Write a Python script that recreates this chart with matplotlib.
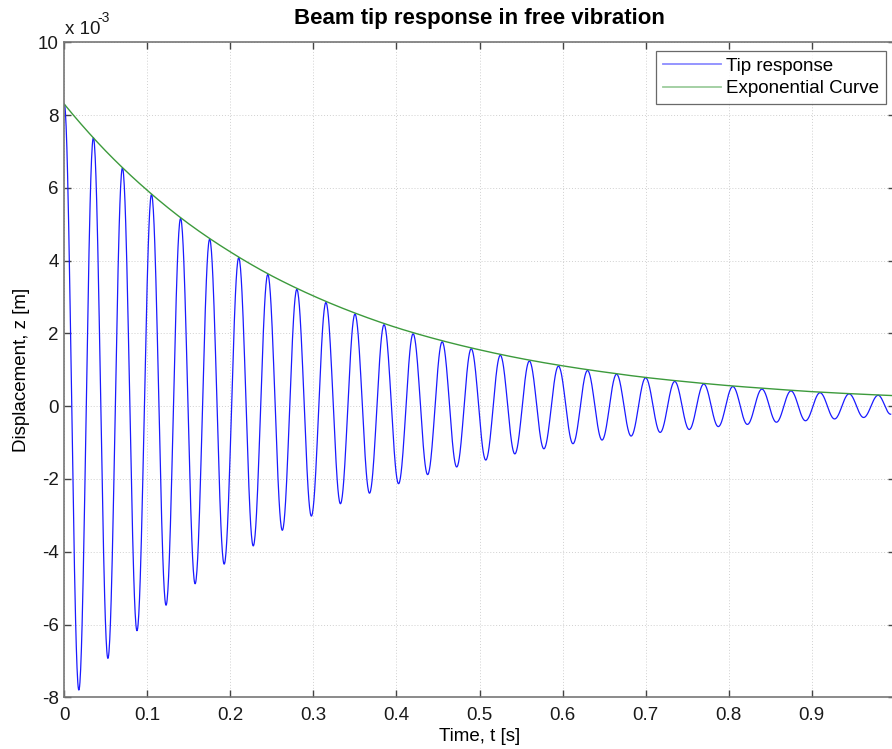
import numpy as np
import matplotlib
matplotlib.use("Agg")
import matplotlib.pyplot as plt

plt.rcParams['font.family'] = ['Liberation Sans', 'DejaVu Sans']
plt.rcParams['axes.unicode_minus'] = False

# ---- data (displacement in units of 1e-3 m) ----
peak_times = [0.000, 0.035, 0.070, 0.105, 0.140, 0.175, 0.210, 0.245, 0.280, 0.315,
              0.350, 0.385, 0.420, 0.455, 0.490, 0.525, 0.560, 0.595, 0.630, 0.665,
              0.700, 0.735, 0.770, 0.805, 0.840, 0.875, 0.910, 0.945, 0.980]
peak_values = [8.30, 7.38, 6.55, 5.82, 5.16, 4.59, 4.08, 3.62, 3.21, 2.85,
               2.53, 2.24, 1.99, 1.77, 1.58, 1.40, 1.24, 1.10, 0.98, 0.88,
               0.78, 0.68, 0.61, 0.54, 0.47, 0.42, 0.37, 0.34, 0.30]
trough_times = [0.0175, 0.0525, 0.0875, 0.1225, 0.1575, 0.1925, 0.2275, 0.2625, 0.2975, 0.3325,
                0.3675, 0.4025, 0.4375, 0.4725, 0.5075, 0.5425, 0.5775, 0.6125, 0.6475, 0.6825,
                0.7175, 0.7525, 0.7875, 0.8225, 0.8575, 0.8925, 0.9275, 0.9625]
trough_values = [-7.80, -6.93, -6.17, -5.47, -4.88, -4.34, -3.84, -3.41, -3.02, -2.68,
                 -2.39, -2.13, -1.88, -1.67, -1.48, -1.31, -1.17, -1.03, -0.93, -0.82,
                 -0.72, -0.64, -0.56, -0.50, -0.44, -0.40, -0.35, -0.31]
end_time = 0.995
end_value = -0.22

env_times = [0.00, 0.05, 0.10, 0.15, 0.20, 0.25, 0.30, 0.35, 0.40, 0.45, 0.50,
             0.55, 0.60, 0.65, 0.70, 0.75, 0.80, 0.85, 0.90, 0.95, 1.00]
env_values = [8.30, 7.01, 5.93, 5.01, 4.24, 3.58, 3.03, 2.56, 2.16, 1.83, 1.55,
              1.31, 1.11, 0.94, 0.79, 0.67, 0.565, 0.48, 0.40, 0.34, 0.29]

x_ticks = [0, 0.1, 0.2, 0.3, 0.4, 0.5, 0.6, 0.7, 0.8, 0.9]
x_tick_labels = ['0', '0.1', '0.2', '0.3', '0.4', '0.5', '0.6', '0.7', '0.8', '0.9']
y_ticks = [-8, -6, -4, -2, 0, 2, 4, 6, 8, 10]

# ---- build the drawn curves ----
ext_t = []
ext_v = []
for i in range(len(peak_times)):
    ext_t.append(peak_times[i]); ext_v.append(peak_values[i])
    if i < len(trough_times):
        ext_t.append(trough_times[i]); ext_v.append(trough_values[i])
ext_t.append(end_time); ext_v.append(end_value)

resp_t, resp_v = [], []
for i in range(len(ext_t) - 1):
    s = np.linspace(0, 1, 40, endpoint=False)
    w = (1 - np.cos(np.pi * s)) / 2
    resp_t.extend(ext_t[i] + (ext_t[i + 1] - ext_t[i]) * s)
    resp_v.extend(ext_v[i] + (ext_v[i + 1] - ext_v[i]) * w)
resp_t.append(ext_t[-1]); resp_v.append(ext_v[-1])

env_t, env_v = [], []
for i in range(len(env_times) - 1):
    s = np.linspace(0, 1, 20, endpoint=False)
    env_t.extend(env_times[i] + (env_times[i + 1] - env_times[i]) * s)
    env_v.extend(env_values[i] * (env_values[i + 1] / env_values[i]) ** s)
env_t.append(env_times[-1]); env_v.append(env_values[-1])

# ---- figure ----
fig = plt.figure(figsize=(8.92, 7.49), dpi=100)
ax = fig.add_axes([0.0721, 0.069, 0.931, 0.8745])

ax.plot(resp_t, resp_v, color='#1a1aff', lw=0.9, label='Tip response')
ax.plot(env_t, env_v, color='#3c9a3c', lw=1.0, label='Exponential Curve')

ax.set_xlim(0, 1.0)
ax.set_ylim(-8, 10)
ax.set_xticks(x_ticks)
ax.set_xticklabels(x_tick_labels)
ax.set_yticks(y_ticks)

ax.grid(True, linestyle=(0, (1, 2)), color='#d0d0d0', linewidth=0.7)
ax.tick_params(direction='in', length=5, width=1, color='#444444', labelcolor='#1a1a1a',
               labelsize=13.5, top=True, right=True)
ax.tick_params(axis='x', pad=7)
ax.tick_params(axis='y', pad=4)
for sp in ax.spines.values():
    sp.set_color('#777777')
    sp.set_linewidth(1.2)

ax.set_title('Beam tip response in free vibration', fontsize=16, fontweight='bold', pad=13)
ax.set_xlabel('Time, t [s]', fontsize=13.5, labelpad=3)
ax.set_ylabel('Displacement, z [m]', fontsize=13.5, labelpad=6)

fig.text(0.0725, 1 - 34 / 749, 'x 10', fontsize=13.5, color='#1a1a1a', ha='left', va='baseline')
fig.text(0.1095, 1 - 22 / 749, '-3', fontsize=10, color='#1a1a1a', ha='left', va='baseline')

leg = ax.legend(loc='upper right', bbox_to_anchor=(0.9895, 0.9867), fontsize=13.5,
                frameon=True, fancybox=False, edgecolor='#444444', borderpad=0.35,
                handlelength=3.1, handletextpad=0.3, labelspacing=0.28, borderaxespad=0.0)
leg.get_frame().set_linewidth(0.9)
for line in leg.get_lines():
    line.set_alpha(0.5)
    line.set_linewidth(1.3)

fig.savefig('out.png', dpi=100)
